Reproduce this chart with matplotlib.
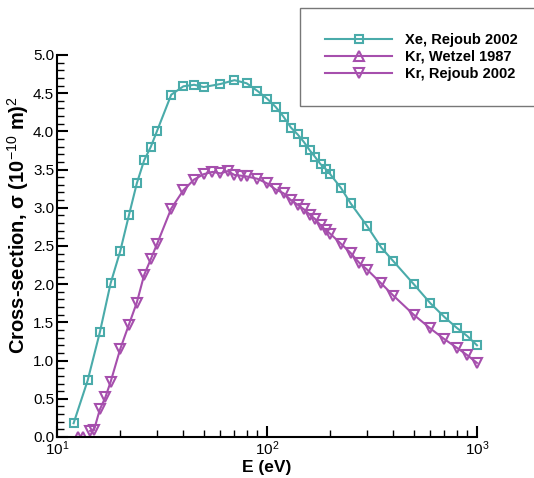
import numpy as np
import matplotlib
matplotlib.use("Agg")
from matplotlib import pyplot as plt
from matplotlib import ticker

plt.rcParams['font.family'] = ['Liberation Sans', 'DejaVu Sans']
plt.rcParams['mathtext.fontset'] = 'custom'
plt.rcParams['mathtext.rm'] = 'Liberation Sans'
plt.rcParams['mathtext.it'] = 'Liberation Sans:italic'
plt.rcParams['mathtext.bf'] = 'Liberation Sans:bold'

# Xe, Rejoub 2002
xe_E = [12, 14, 16, 18, 20, 22, 24, 26, 28, 30, 35, 40, 45, 50, 60, 70, 80,
        90, 100, 110, 120, 130, 140, 150, 160, 170, 180, 190, 200, 225, 250,
        300, 350, 400, 500, 600, 700, 800, 900, 1000]
xe_sigma = [0.18, 0.74, 1.37, 2.01, 2.43, 2.90, 3.32, 3.62, 3.80, 4.01, 4.48,
            4.59, 4.61, 4.58, 4.62, 4.67, 4.63, 4.53, 4.43, 4.32, 4.19, 4.05,
            3.96, 3.86, 3.75, 3.66, 3.57, 3.51, 3.44, 3.26, 3.06, 2.76, 2.48,
            2.30, 2.00, 1.75, 1.57, 1.43, 1.32, 1.20]

# Kr, Wetzel 1987
kr_w_E = [12.6, 13.3]
kr_w_sigma = [0.0, 0.0]

# Kr, Rejoub 2002
kr_E = [14.4, 15, 16, 17, 18, 20, 22, 24, 26, 28, 30, 35, 40, 45, 50, 55, 60,
        65, 70, 75, 80, 90, 100, 110, 120, 130, 140, 150, 160, 170, 180, 190,
        200, 225, 250, 275, 300, 350, 400, 500, 600, 700, 800, 900, 1000]
kr_sigma = [0.08, 0.09, 0.36, 0.52, 0.72, 1.15, 1.47, 1.76, 2.12, 2.33, 2.53,
            2.99, 3.23, 3.37, 3.44, 3.47, 3.45, 3.48, 3.43, 3.42, 3.41, 3.38,
            3.32, 3.24, 3.19, 3.10, 3.04, 2.98, 2.91, 2.85, 2.77, 2.71, 2.66,
            2.53, 2.41, 2.28, 2.19, 2.01, 1.85, 1.60, 1.42, 1.28, 1.17, 1.07,
            0.97]

teal = '#4aabaa'
purple = '#a64fad'

fig = plt.figure(figsize=(5.34, 4.78), dpi=100)
ax = fig.add_axes([0.1067, 0.0858, 0.7865, 0.7992])

ax.plot(xe_E, xe_sigma, color=teal, lw=1.5, marker='s', ms=6,
        mfc='none', mec=teal, mew=1.5, label='Xe, Rejoub 2002', clip_on=False)
ax.plot(kr_w_E, kr_w_sigma, color=purple, lw=1.5, marker='^', ms=7.5,
        mfc='none', mec=purple, mew=1.5, label='Kr, Wetzel 1987')
ax.plot(kr_E, kr_sigma, color=purple, lw=1.5, marker='v', ms=7.5,
        mfc='none', mec=purple, mew=1.5, label='Kr, Rejoub 2002', clip_on=False)

ax.set_xscale('log')
ax.set_xlim(10, 1000)
ax.set_ylim(0, 5)
ax.yaxis.set_major_locator(ticker.MultipleLocator(0.5))
ax.yaxis.set_minor_locator(ticker.MultipleLocator(0.1))
ax.yaxis.set_major_formatter(ticker.FormatStrFormatter('%.1f'))
ax.xaxis.set_minor_locator(ticker.LogLocator(base=10, subs=np.arange(2, 10)))
ax.xaxis.set_minor_formatter(ticker.NullFormatter())

ax.spines['top'].set_visible(False)
ax.spines['right'].set_visible(False)
ax.spines['left'].set_linewidth(1.5)
ax.spines['bottom'].set_linewidth(1.5)
ax.tick_params(which='major', direction='in', length=8, width=1.5,
               labelsize=11, pad=2)
ax.tick_params(which='minor', direction='in', length=5, width=1.0)

ax.set_xlabel('E (eV)', fontsize=12.5, fontweight='bold', labelpad=1)
ax.set_ylabel('Cross-section, \u03c3 (10$^{-10}$ m)$^2$', fontsize=14.5,
              fontweight='bold')
ax.yaxis.set_label_coords(-0.062, 0.555)

leg = ax.legend(loc='upper right', bbox_to_anchor=(1.03, 0.998),
                bbox_transform=fig.transFigure, frameon=True, fancybox=False,
                edgecolor='#555555', borderpad=1.7, handlelength=4.6,
                handletextpad=0.9, labelspacing=0.2,
                prop={'weight': 'bold', 'size': 10.5})
leg.get_frame().set_linewidth(1.0)

fig.savefig('out.png', dpi=100)
